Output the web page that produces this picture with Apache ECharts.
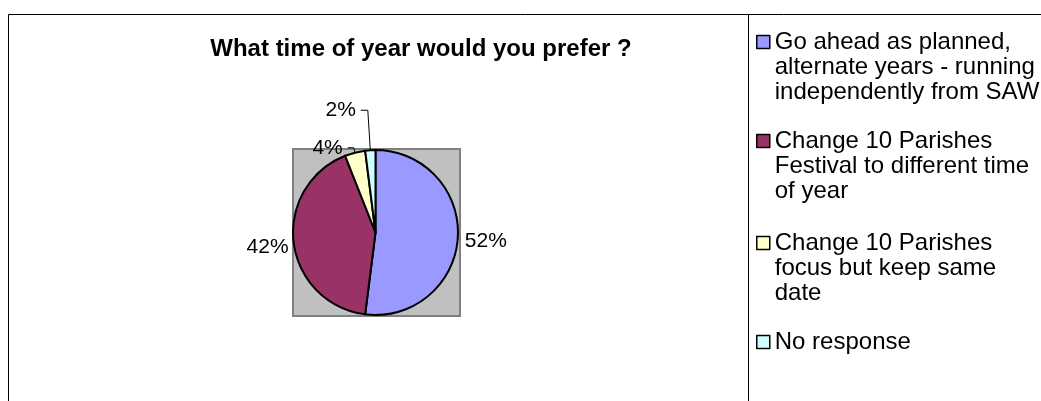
<!DOCTYPE html>
<html>
<head>
<meta charset="utf-8">
<script src="https://cdn.jsdelivr.net/npm/echarts@6/dist/echarts.min.js"></script>
<style>
* { margin: 0; padding: 0; }
html, body { background: #fff; }
#chart-container { width: 1041px; height: 401px; }
</style>
</head>
<body>
<div id="chart-container"></div>
<script>
const titleText = 'What time of year would you prefer ?'
const categories = [
  'Go ahead as planned,\nalternate years - running\nindependently from SAW',
  'Change 10 Parishes\nFestival to different time\nof year',
  'Change 10 Parishes\nfocus but keep same\ndate',
  'No response'
]
const shares = [52, 42, 4, 2]
const sliceColors = ['#9999FF', '#993366', '#FFFFCC', '#CCFFFF']
// label leader lines: [show, length, length2]
const leaderLines = [[false, 0, 2], [false, 0, 0], [true, 5, 6], [true, 40, 7]]
// legend icon centre y per item
const legendCentres = [42, 141, 243, 342]

const font = "'Liberation Sans', Arial, sans-serif"
const cx = 375.5
const cy = 232.5
const r = 82.5
const lineH = 25

const chartDom = document.getElementById('chart-container')
const myChart = echarts.init(chartDom)

// one legend per item so the icon sits beside the first line of its text
const legends = categories.map((name, i) => {
  const n = name.split('\n').length
  return {
    orient: 'vertical',
    left: 756,
    top: legendCentres[i] - (2 * n - 1) * lineH / 2,
    padding: 0,
    itemWidth: 13,
    itemHeight: 13,
    itemGap: 0,
    icon: 'rect',
    selectedMode: false,
    itemStyle: { borderColor: '#000', borderWidth: 1.5 },
    formatter: (label) => '\n'.repeat(n - 1) + label,
    textStyle: {
      fontFamily: font,
      fontSize: 24,
      color: '#000',
      lineHeight: lineH
    },
    data: [name]
  }
})

const option = {
  animation: false,
  backgroundColor: '#fff',
  title: {
    text: titleText,
    left: 421,
    top: 37,
    padding: 0,
    textAlign: 'center',
    textStyle: { fontFamily: font, fontSize: 24, fontWeight: 'bold', color: '#000' }
  },
  legend: legends,
  graphic: [
    {
      type: 'rect',
      z: -10,
      shape: { x: 8.5, y: 14.5, width: 1100, height: 500 },
      style: { fill: null, stroke: '#000', lineWidth: 1 }
    },
    {
      type: 'line',
      z: -10,
      shape: { x1: 748.5, y1: 14.5, x2: 748.5, y2: 401 },
      style: { stroke: '#000', lineWidth: 1 }
    },
    {
      type: 'rect',
      z: -5,
      shape: { x: cx - r, y: cy - r - 1, width: 2 * r + 2, height: 2 * r + 2 },
      style: { fill: '#C0C0C0', stroke: '#808080', lineWidth: 2 }
    }
  ],
  series: [
    {
      type: 'pie',
      center: [cx, cy],
      radius: r,
      startAngle: 90,
      clockwise: true,
      avoidLabelOverlap: false,
      percentPrecision: 0,
      itemStyle: { borderColor: '#000', borderWidth: 2 },
      emphasis: { disabled: true },
      label: {
        show: true,
        position: 'outside',
        formatter: '{d}%',
        fontFamily: font,
        fontSize: 21,
        color: '#000',
        distanceToLabelLine: 5
      },
      labelLine: {
        lineStyle: { color: '#000', width: 1 }
      },
      labelLayout: (params) => (params.dataIndex < 2 ? { dy: 4 } : {}),
      data: categories.map((name, i) => ({
        name: name,
        value: shares[i],
        itemStyle: { color: sliceColors[i] },
        labelLine: {
          show: leaderLines[i][0],
          length: leaderLines[i][1],
          length2: leaderLines[i][2]
        }
      }))
    }
  ]
}

myChart.setOption(option)
</script>
</body>
</html>
